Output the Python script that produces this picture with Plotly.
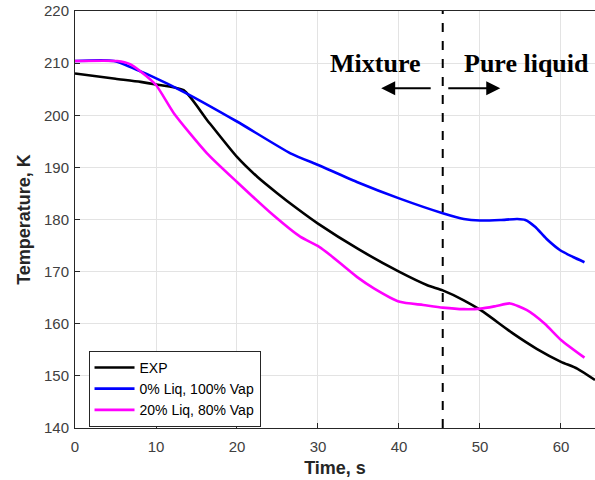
import plotly.graph_objects as go

# EXP
t_exp = [0, 5, 8.1, 10, 13.4, 16.3, 20, 22.5, 25, 27.5, 30, 35, 40, 43.5, 45.4, 48.0, 50.1, 54.1, 57, 60.0, 62.0, 64.2]
T_exp = [208.0, 207.0, 206.4, 205.9, 204.8, 199.1, 192.0, 188.2, 185.0, 182.0, 179.2, 174.3, 170.0, 167.4, 166.4, 164.5, 162.6, 158.1, 155.2, 152.7, 151.4, 149.2]

# 0% Liq, 100% Vap
t_vap = [0, 4.8, 8.1, 9.3, 13.4, 20, 26.6, 30.1, 34.8, 40.1, 45.4, 48, 50.0, 52.5, 54.6, 55.6, 56.8, 58.2, 59.9, 61.5, 62.9]
T_vap = [210.4, 210.4, 208.4, 207.6, 204.5, 198.8, 192.7, 190.4, 187.2, 184.0, 181.2, 180.1, 179.8, 179.9, 180.1, 179.9, 178.6, 176.3, 174.1, 172.8, 171.8]

# 20% Liq, 80% Vap
t_liq = [0, 5.2, 6.8, 8.1, 10, 12.2, 16.3, 20, 24.5, 27.8, 30.1, 31.5, 34.8, 36.9, 40.1, 43.0, 45.4, 48, 50.1, 52, 53.7, 55.8, 58, 60.0, 62.9]
T_liq = [210.4, 210.4, 209.8, 208.4, 205.8, 200.4, 192.7, 187.2, 180.8, 176.7, 174.8, 173.2, 169.0, 166.8, 164.2, 163.6, 163.1, 162.8, 162.9, 163.4, 163.9, 162.6, 160.0, 156.9, 153.5]

x_ticks = [0, 10, 20, 30, 40, 50, 60]
y_ticks = [140, 150, 160, 170, 180, 190, 200, 210, 220]
t_split = 45.4

fig = go.Figure()
fig.add_trace(go.Scatter(x=t_exp, y=T_exp, mode="lines", name="EXP",
                         line=dict(color="black", width=2.6, shape="spline", smoothing=0.6)))
fig.add_trace(go.Scatter(x=t_vap, y=T_vap, mode="lines", name="0% Liq, 100% Vap",
                         line=dict(color="#0000ff", width=2.6, shape="spline", smoothing=0.6)))
fig.add_trace(go.Scatter(x=t_liq, y=T_liq, mode="lines", name="20% Liq, 80% Vap",
                         line=dict(color="#ff00ff", width=2.6, shape="spline", smoothing=0.6)))

fig.add_shape(type="line", x0=t_split, x1=t_split, y0=140, y1=220, xref="x", yref="y",
              line=dict(color="black", width=2, dash="dash"))

# arrows
fig.add_annotation(x=37.8, y=205.2, ax=44.1, ay=205.2, xref="x", yref="y", axref="x", ayref="y",
                   showarrow=True, arrowhead=2, arrowsize=1.4, arrowwidth=2, arrowcolor="black", text="")
fig.add_annotation(x=52.5, y=205.2, ax=45.9, ay=205.2, xref="x", yref="y", axref="x", ayref="y",
                   showarrow=True, arrowhead=2, arrowsize=1.4, arrowwidth=2, arrowcolor="black", text="")
fig.add_annotation(x=37.1, y=210.0, xref="x", yref="y", text="<b>Mixture</b>", showarrow=False,
                   font=dict(family="Liberation Serif", size=26, color="black"))
fig.add_annotation(x=55.7, y=210.0, xref="x", yref="y", text="<b>Pure liquid</b>", showarrow=False,
                   font=dict(family="Liberation Serif", size=26, color="black"))

axis_common = dict(showgrid=True, gridcolor="#e3e3e3", gridwidth=1, showline=True, linecolor="#262626",
                   linewidth=1, mirror=True, ticks="inside", ticklen=5, tickcolor="#262626",
                   tickfont=dict(family="Arial", size=15, color="#404040"), zeroline=False)

fig.update_xaxes(range=[0, 64.2], tickvals=x_ticks, ticklabelstandoff=5,
                 title=dict(text="<b>Time, s</b>", font=dict(family="Arial", size=18, color="#262626"), standoff=7),
                 **axis_common)
fig.update_yaxes(range=[140, 220], tickvals=y_ticks, ticklabelstandoff=2,
                 title=dict(text="<b>Temperature, K</b>", font=dict(family="Arial", size=18, color="#262626"), standoff=8),
                 **axis_common)

fig.update_layout(
    width=595, height=480,
    margin=dict(l=75, r=0, t=11, b=52),
    plot_bgcolor="white", paper_bgcolor="white",
    legend=dict(x=0.026, y=0.185, xanchor="left", yanchor="top",
                bgcolor="white", bordercolor="#262626", borderwidth=1,
                font=dict(family="Arial", size=14, color="black"),
                tracegroupgap=0, itemwidth=40),
    showlegend=True,
)

fig.write_html("out.html")
